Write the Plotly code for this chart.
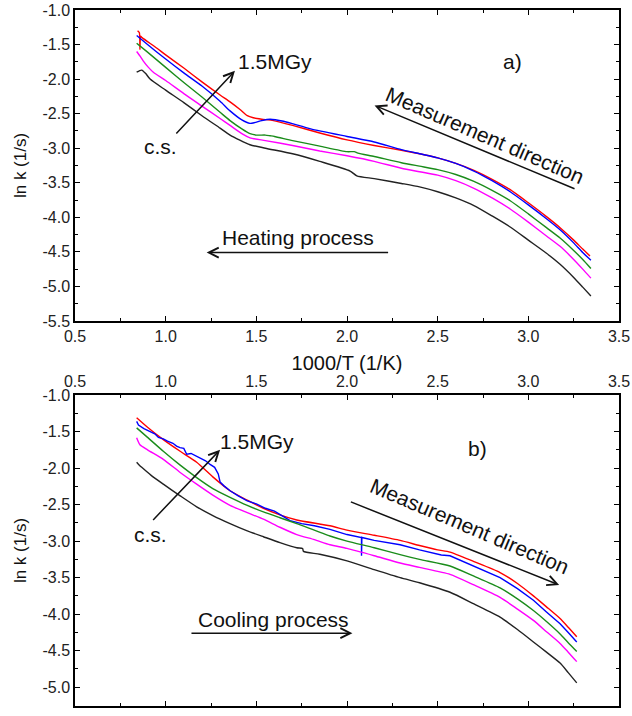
import plotly.graph_objects as go

# ---------------- data: (a) heating process ----------------
red_h_x = [0.845, 0.855, 0.858, 0.862, 0.87, 0.95, 1.0, 1.1, 1.2, 1.3, 1.355, 1.41, 1.45, 1.483, 1.53, 1.594,
           1.7, 1.85, 2.0, 2.15, 2.3, 2.4, 2.5, 2.6, 2.7, 2.8, 2.9, 3.0, 3.1, 3.175, 3.25, 3.3, 3.34]
red_h_y = [-1.30, -1.33, -1.57, -1.38, -1.40, -1.55, -1.65, -1.84, -2.04, -2.23, -2.33, -2.44, -2.53, -2.56,
           -2.58, -2.60, -2.67, -2.78, -2.88, -2.96, -3.03, -3.08, -3.14, -3.22, -3.32, -3.45, -3.60, -3.79,
           -3.99, -4.15, -4.33, -4.46, -4.56]

blue_h_x = [0.84, 0.9, 1.0, 1.1, 1.2, 1.3, 1.355, 1.42, 1.465, 1.49, 1.53, 1.576, 1.65, 1.8, 2.0, 2.15, 2.3,
            2.4, 2.5, 2.6, 2.7, 2.8, 2.9, 3.0, 3.1, 3.175, 3.25, 3.3, 3.345]
blue_h_y = [-1.37, -1.50, -1.71, -1.91, -2.10, -2.32, -2.46, -2.59, -2.64, -2.63, -2.60, -2.58, -2.61, -2.72,
            -2.83, -2.91, -3.02, -3.08, -3.14, -3.22, -3.33, -3.47, -3.63, -3.82, -4.02, -4.18, -4.37, -4.51,
            -4.62]

green_h_x = [0.84, 0.9, 1.0, 1.1, 1.2, 1.3, 1.355, 1.42, 1.465, 1.5, 1.55, 1.576, 1.6, 1.7, 1.85, 2.0, 2.04,
             2.06, 2.15, 2.3, 2.4, 2.5, 2.6, 2.7, 2.8, 2.9, 3.0, 3.1, 3.175, 3.25, 3.3, 3.345]
green_h_y = [-1.48, -1.61, -1.83, -2.05, -2.26, -2.48, -2.60, -2.72, -2.79, -2.81, -2.81, -2.82, -2.83, -2.89,
             -2.97, -3.05, -3.05, -3.07, -3.12, -3.21, -3.26, -3.31, -3.38, -3.48, -3.61, -3.76, -3.95, -4.15,
             -4.30, -4.48, -4.61, -4.74]

magenta_h_x = [0.84, 0.86, 0.877, 0.905, 0.932, 1.0, 1.1, 1.2, 1.3, 1.355, 1.42, 1.465, 1.55, 1.7, 1.85, 2.0,
               2.15, 2.3, 2.4, 2.5, 2.6, 2.7, 2.8, 2.9, 3.0, 3.1, 3.175, 3.25, 3.3, 3.345]
magenta_h_y = [-1.60, -1.67, -1.74, -1.83, -1.90, -2.02, -2.21, -2.39, -2.57, -2.67, -2.79, -2.85, -2.89, -2.96,
               -3.04, -3.11, -3.19, -3.29, -3.34, -3.39, -3.47, -3.58, -3.72, -3.88, -4.07, -4.27, -4.42, -4.61,
               -4.75, -4.88]

black_h_x = [0.84, 0.855, 0.868, 0.89, 0.914, 1.0, 1.1, 1.2, 1.3, 1.355, 1.465, 1.55, 1.7, 1.85, 2.017, 2.054,
             2.15, 2.3, 2.4, 2.5, 2.6, 2.7, 2.8, 2.9, 3.0, 3.1, 3.175, 3.25, 3.3, 3.345]
black_h_y = [-1.90, -1.88, -1.87, -1.92, -2.00, -2.16, -2.34, -2.53, -2.71, -2.81, -2.95, -3.00, -3.08, -3.19,
             -3.33, -3.40, -3.44, -3.51, -3.56, -3.63, -3.72, -3.83, -3.98, -4.14, -4.33, -4.52, -4.68, -4.87,
             -5.01, -5.14]

# ---------------- data: (b) cooling process ----------------
red_c_x = [0.84, 0.9, 0.987, 1.08, 1.171, 1.26, 1.355, 1.45, 1.539, 1.63, 1.723, 1.906, 2.0, 2.15, 2.293, 2.4,
           2.5, 2.568, 2.7, 2.844, 2.94, 3.028, 3.1, 3.175, 3.22, 3.267]
red_c_y = [-1.31, -1.44, -1.61, -1.77, -1.92, -2.12, -2.31, -2.44, -2.55, -2.64, -2.71, -2.79, -2.85, -2.92,
           -2.99, -3.06, -3.12, -3.15, -3.28, -3.43, -3.58, -3.75, -3.90, -4.06, -4.18, -4.31]

blue_c_x = [0.84, 0.85, 0.88, 0.91, 0.94, 0.96, 0.987, 1.01, 1.04, 1.06, 1.079, 1.10, 1.116, 1.14, 1.171, 1.20,
            1.22, 1.245, 1.27, 1.29, 1.30, 1.32, 1.355, 1.40, 1.45, 1.50, 1.55, 1.60, 1.649, 1.686, 1.75, 1.82,
            1.906, 2.0, 2.08, 2.08, 2.082, 2.15, 2.293, 2.4, 2.5, 2.52, 2.568, 2.7, 2.844, 2.94, 3.028, 3.1,
            3.175, 3.22, 3.267]
blue_c_y = [-1.36, -1.41, -1.46, -1.50, -1.53, -1.58, -1.60, -1.63, -1.66, -1.70, -1.72, -1.73, -1.81, -1.80,
            -1.84, -1.88, -1.90, -1.95, -1.99, -2.08, -2.19, -2.24, -2.31, -2.38, -2.45, -2.49, -2.55, -2.59,
            -2.66, -2.72, -2.76, -2.79, -2.84, -2.91, -2.95, -3.20, -2.95, -2.99, -3.05, -3.12, -3.17, -3.19,
            -3.20, -3.34, -3.50, -3.65, -3.81, -3.97, -4.13, -4.25, -4.38]

green_c_x = [0.84, 0.9, 0.987, 1.08, 1.171, 1.26, 1.355, 1.45, 1.539, 1.63, 1.723, 1.906, 2.0, 2.15, 2.293,
             2.4, 2.568, 2.7, 2.844, 2.94, 3.028, 3.1, 3.175, 3.22, 3.267]
green_c_y = [-1.45, -1.58, -1.77, -1.96, -2.13, -2.28, -2.40, -2.51, -2.60, -2.68, -2.76, -2.93, -3.00, -3.09,
             -3.185, -3.25, -3.34, -3.48, -3.64, -3.79, -3.95, -4.10, -4.27, -4.39, -4.51]

magenta_c_x = [0.84, 0.858, 0.9, 0.987, 1.08, 1.171, 1.26, 1.355, 1.45, 1.539, 1.63, 1.723, 1.82, 1.906, 2.0,
               2.15, 2.293, 2.4, 2.568, 2.7, 2.844, 2.94, 3.028, 3.1, 3.175, 3.22, 3.267]
magenta_c_y = [-1.585, -1.68, -1.75, -1.88, -2.06, -2.22, -2.37, -2.51, -2.61, -2.70, -2.81, -2.91, -2.98, -3.05,
               -3.10, -3.20, -3.30, -3.36, -3.455, -3.60, -3.77, -3.93, -4.085, -4.24, -4.40, -4.52, -4.65]

black_c_x = [0.84, 0.855, 0.868, 0.92, 0.987, 1.08, 1.171, 1.26, 1.355, 1.45, 1.539, 1.63, 1.723, 1.755, 1.76,
             1.85, 2.0, 2.15, 2.293, 2.4, 2.568, 2.7, 2.844, 2.94, 3.028, 3.1, 3.175, 3.22, 3.267]
black_c_y = [-1.92, -1.96, -1.99, -2.10, -2.22, -2.38, -2.53, -2.65, -2.76, -2.86, -2.94, -3.02, -3.09, -3.10,
             -3.14, -3.18, -3.27, -3.39, -3.50, -3.57, -3.70, -3.86, -4.04, -4.21, -4.38, -4.52, -4.67, -4.80,
             -4.94]

x_ticks = [0.5, 1.0, 1.5, 2.0, 2.5, 3.0, 3.5]
y_ticks_a = [-1.0, -1.5, -2.0, -2.5, -3.0, -3.5, -4.0, -4.5, -5.0, -5.5]
y_ticks_b = [-1.0, -1.5, -2.0, -2.5, -3.0, -3.5, -4.0, -4.5, -5.0]

colors = ["#ff0000", "#0000ff", "#1a8c1a", "#ff00ff", "#222222"]

FONT = "Arial, Liberation Sans, sans-serif"

fig = go.Figure()

heating = [(red_h_x, red_h_y), (blue_h_x, blue_h_y), (green_h_x, green_h_y),
           (magenta_h_x, magenta_h_y), (black_h_x, black_h_y)]
cooling = [(red_c_x, red_c_y), (blue_c_x, blue_c_y), (green_c_x, green_c_y),
           (magenta_c_x, magenta_c_y), (black_c_x, black_c_y)]

for (xs, ys), c in zip(heating, colors):
    fig.add_trace(go.Scatter(x=xs, y=ys, mode="lines",
                             line=dict(color=c, width=1.4, shape="spline", smoothing=0.6),
                             xaxis="x", yaxis="y", showlegend=False, hoverinfo="skip"))
for i, ((xs, ys), c) in enumerate(zip(cooling, colors)):
    shape = "linear" if i == 1 else "spline"
    fig.add_trace(go.Scatter(x=xs, y=ys, mode="lines",
                             line=dict(color=c, width=1.4, shape=shape, smoothing=0.6),
                             xaxis="x2", yaxis="y2", showlegend=False, hoverinfo="skip"))

axis_common = dict(
    showline=True, linecolor="black", linewidth=1.5, mirror="allticks",
    ticks="inside", ticklen=5, tickwidth=1.2, tickcolor="black",
    showgrid=False, zeroline=False,
    tickfont=dict(family=FONT, size=16, color="#222"),
)
minor_common = dict(ticks="inside", ticklen=3, tickwidth=1, tickcolor="black", dtick=0.25)

fig.update_layout(
    width=632, height=716,
    margin=dict(l=75, r=13, t=10, b=1),
    plot_bgcolor="white", paper_bgcolor="white",
    font=dict(family=FONT, color="#111"),
    xaxis=dict(**axis_common, domain=[0, 1], anchor="y", range=[0.5, 3.5],
               tickvals=x_ticks, ticktext=[f"{v:.1f}" for v in x_ticks],
               minor=dict(**minor_common, tick0=0.5),
               title=dict(text="1000/T (1/K)", font=dict(family=FONT, size=20), standoff=12)),
    yaxis=dict(**axis_common, domain=[0.5532, 1], anchor="x", range=[-5.5, -1.0],
               tickvals=y_ticks_a, ticktext=[f"{v:.1f}" for v in y_ticks_a],
               minor=dict(**minor_common, tick0=-1.0),
               title=dict(text="ln k (1/s)", font=dict(family=FONT, size=17), standoff=12)),
    xaxis2=dict(**axis_common, domain=[0, 1], anchor="y2", side="top", range=[0.5, 3.5],
                tickvals=x_ticks, ticktext=[f"{v:.1f}" for v in x_ticks],
                minor=dict(**minor_common, tick0=0.5)),
    yaxis2=dict(**axis_common, domain=[0, 0.4468], anchor="x2", range=[-5.257, -1.0],
                tickvals=y_ticks_b, ticktext=[f"{v:.1f}" for v in y_ticks_b],
                minor=dict(**minor_common, tick0=-1.0),
                title=dict(text="ln k (1/s)", font=dict(family=FONT, size=17), standoff=12)),
)

TF = dict(family=FONT, size=21, color="#111")


def text(xr, yr, x, y, s, xanchor="center", angle=0):
    fig.add_annotation(xref=xr, yref=yr, x=x, y=y, text=s, showarrow=False,
                       xanchor=xanchor, yanchor="middle", textangle=angle, font=TF)


def arrow(xr, yr, x0, y0, x1, y1):
    fig.add_annotation(xref=xr, yref=yr, axref=xr, ayref=yr, x=x1, y=y1, ax=x0, ay=y0,
                       text="", showarrow=True, arrowhead=5, arrowsize=1.3, arrowwidth=1.5,
                       arrowcolor="#111", standoff=0, startstandoff=0)


# panel a
text("x", "y", 1.39, -1.74, "1.5MGy", xanchor="left")
text("x", "y", 2.915, -1.74, "a)")
text("x", "y", 0.97, -2.98, "c.s.")
arrow("x", "y", 1.051, -2.81, 1.382, -1.88)
text("x", "y", 2.763, -2.82, "Measurement direction", angle=23.4)
arrow("x", "y", 3.263, -3.595, 2.152, -2.381)
text("x", "y", 1.732, -4.286, "Heating process")
arrow("x", "y", 2.235, -4.51, 1.226, -4.51)

# panel b
text("x2", "y2", 1.29, -1.63, "1.5MGy", xanchor="left")
text("x2", "y2", 2.717, -1.73, "b)")
text("x2", "y2", 0.917, -2.91, "c.s.")
arrow("x2", "y2", 0.923, -2.73, 1.30, -1.75)
text("x2", "y2", 2.68, -2.795, "Measurement direction", angle=23.0)
arrow("x2", "y2", 2.013, -2.455, 3.17, -3.60)
text("x2", "y2", 1.592, -4.07, "Cooling process")
arrow("x2", "y2", 1.134, -4.26, 2.03, -4.26)

fig.write_html("out.html", config={"displayModeBar": False},
               post_script="document.body.style.margin='0';document.body.style.overflow='hidden';")
